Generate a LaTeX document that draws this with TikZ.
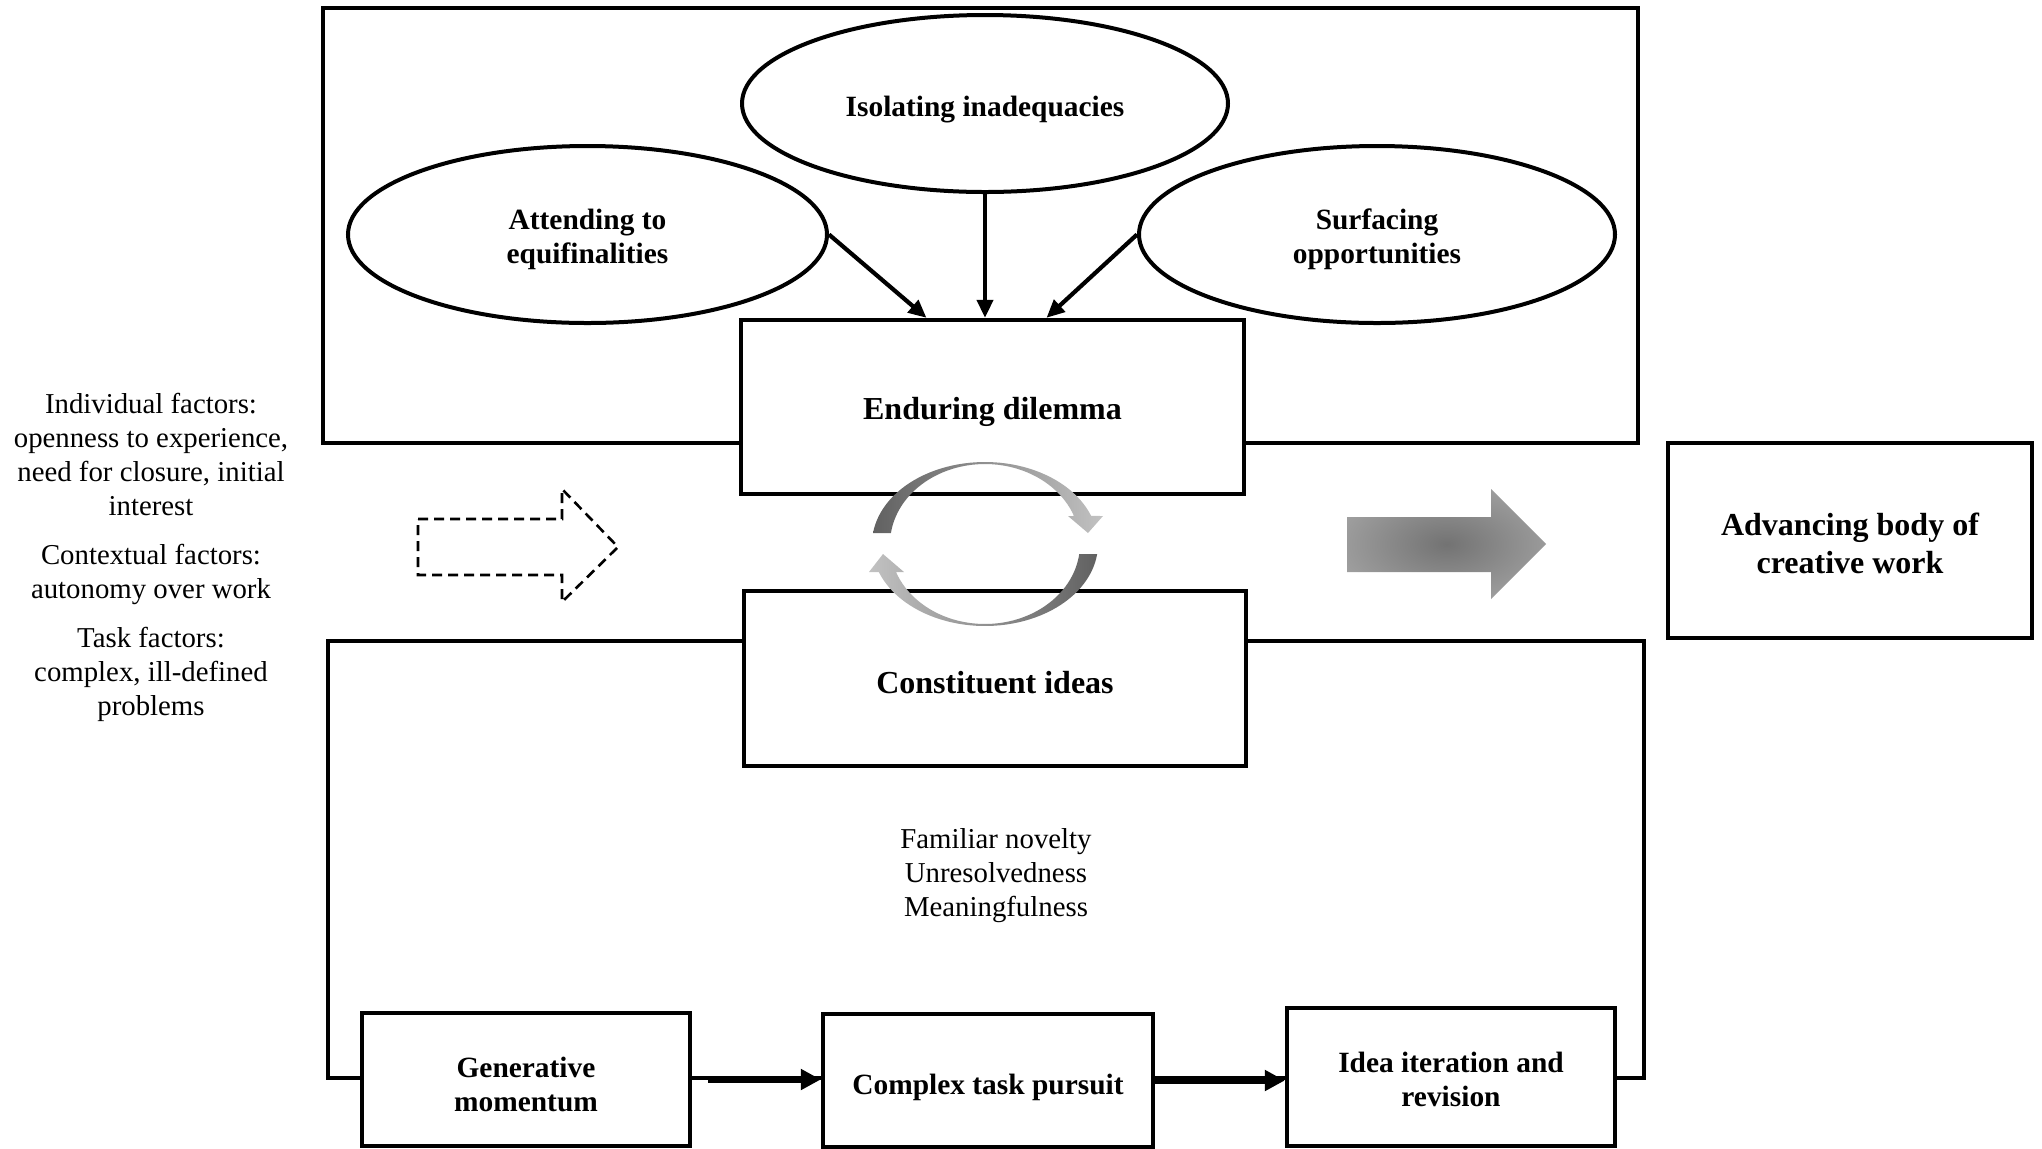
\documentclass[tikz,border=0pt]{standalone}
\usepackage{fontspec}
\setmainfont{Liberation Serif}
\usetikzlibrary{shapes.geometric,arrows.meta}
\pgfdeclareradialshading{arrowglow}{\pgfpoint{0bp}{0bp}}{color(0bp)=(black!55);color(50bp)=(black!24);color(80bp)=(black!24)}
\begin{document}
\begin{tikzpicture}[x=0.5pt,y=-0.5pt,
  every node/.style={inner sep=0pt, align=center, text depth=0pt},
  lbl/.style={font=\bfseries\fontsize{14.7}{17}\selectfont},
  biglbl/.style={font=\bfseries\fontsize{16}{19}\selectfont},
  plain/.style={font=\fontsize{14.4}{17}\selectfont},
  ell/.style={ellipse, draw, line width=2pt, fill=white},
  box/.style={rectangle, draw, line width=2.2pt, fill=white},
  frame/.style={draw, line width=1.9pt},
  thinarrow/.style={line width=2.1pt, -{Triangle[length=9pt,width=8pt]}},
  thickarrow/.style={line width=3pt, -{Triangle[length=10pt,width=10pt]}},
]
\useasboundingbox (0,0) rectangle (2042,1148);

% frames
\draw[frame] (323,8) rectangle (1638,443);
\draw[frame] (328,641) rectangle (1644,1078);

% ellipses
\node[ell, minimum width=243pt, minimum height=88.5pt,
  label={[lbl, yshift=-1.3pt]center:Isolating inadequacies}] (iso) at (985,103.5) {};
\node[ell, minimum width=239.5pt, minimum height=88.5pt,
  label={[lbl, yshift=-0.7pt]center:{Attending to\\equifinalities}}] (att) at (587.5,234.5) {};
\node[ell, minimum width=238pt, minimum height=88.5pt,
  label={[lbl, yshift=-0.7pt]center:{Surfacing\\opportunities}}] (sur) at (1377,234.5) {};

% boxes
\node[box, minimum width=251.5pt, minimum height=87pt,
  label={[biglbl, yshift=-0.7pt]center:Enduring dilemma}] (end) at (992.5,407) {};
\node[box, minimum width=251pt, minimum height=87.5pt,
  label={[biglbl, yshift=-2pt]center:Constituent ideas}] (con) at (995,678.5) {};
\node[box, minimum width=182pt, minimum height=97.5pt,
  label={[biglbl, yshift=-1.3pt]center:{Advancing body of\\creative work}}] (adv) at (1850,540.5) {};
\node[box, minimum width=164pt, minimum height=66.5pt,
  label={[lbl, yshift=-2.6pt]center:{Generative\\momentum}}] (gen) at (526,1079.5) {};
\node[box, minimum width=165pt, minimum height=66.5pt,
  label={[lbl, yshift=-2pt]center:Complex task pursuit}] (cpx) at (988,1080.5) {};
\node[box, minimum width=164pt, minimum height=69pt,
  label={[lbl, yshift=-1.3pt]center:{Idea iteration and\\revision}}] (idea) at (1451,1077) {};

% plain texts
\node[plain] (qual) at (996,872) {Familiar novelty\\Unresolvedness\\Meaningfulness};
\node[plain] (fac) at (151,554) {Individual factors:\\openness to experience,\\need for closure, initial\\interest\\[7.5pt]Contextual factors:\\autonomy over work\\[7.5pt]Task factors:\\complex, ill-defined\\problems};

% arrows into the dilemma
\draw[thinarrow] (att.east) -- ([xshift=-33pt]end.north);
\draw[thinarrow] (iso.south) -- (iso.south |- end.north);
\draw[thinarrow] (sur.west) -- ([xshift=27pt]end.north);

% bottom arrows
\draw[thickarrow] ([xshift=8pt]gen.east) -- (gen.east -| cpx.west);
\draw[thickarrow] (cpx.east) -- (cpx.east -| idea.west);

% dashed block arrow
\draw[line width=1.3pt, dash pattern=on 5pt off 3pt] (418,519) -- (562,519) -- (562,489) -- (618,547) -- (562,602) -- (562,575) -- (418,575) -- cycle;

% shaded block arrow
\shade[shading=arrowglow] (1347,517) -- (1491,517) -- (1491,489) -- (1546,544) -- (1491,599) -- (1491,572) -- (1347,572) -- cycle;

% cycle arrows
\shade[left color=black!62, right color=black!24]
  plot[domain=187.7:340, samples=50] ({985+113*cos(\x)},{544+82*sin(\x)})
  -- (1103,516) -- (1088,533) -- (1068,516)
  -- plot[domain=339.5:187.9, samples=50] ({985+95*cos(\x)},{544+80*sin(\x)}) -- cycle;
\shade[left color=black!24, right color=black!62]
  plot[domain=7:160, samples=50] ({985+113*cos(\x)},{544+82*sin(\x)})
  -- (869,572) -- (883,554) -- (904,572)
  -- plot[domain=159.5:7.2, samples=50] ({985+95*cos(\x)},{544+80*sin(\x)}) -- cycle;
\end{tikzpicture}
\end{document}
